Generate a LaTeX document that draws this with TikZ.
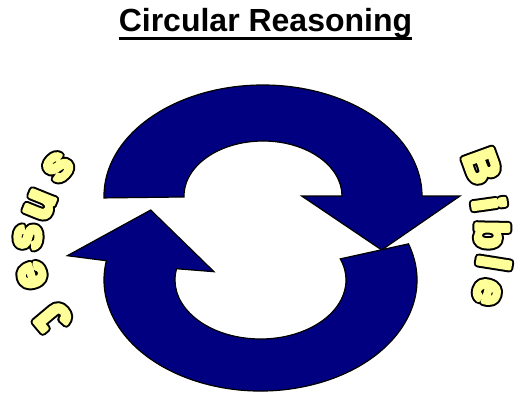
\documentclass[tikz,border=0pt]{standalone}
\usepackage{fontspec}
\setmainfont{Liberation Sans}
\definecolor{navy}{RGB}{0,0,128}
\newcommand{\outl}[1]{\rlap{\special{pdf:literal direct q 2 Tr 8 w 1 j 0 0 0 RG 0 0 0 rg}#1\special{pdf:literal direct Q}}\special{pdf:literal direct q 2 Tr 4 w 1 j 1 1 0.6 RG 1 1 0.6 rg}#1\special{pdf:literal direct Q}}
\begin{document}
\begin{tikzpicture}[x=1pt,y=1pt,
  arrowshape/.style={fill=navy,draw=black,line width=1.2pt,line join=miter},
  jletter/.style={inner sep=0pt,font=\fontsize{46}{46}\selectfont\bfseries},
  bletter/.style={inner sep=0pt,font=\fontsize{44}{44}\selectfont\bfseries},
  titlestyle/.style={inner sep=0pt,anchor=base,font=\fontsize{32}{38}\selectfont\bfseries}]
\useasboundingbox (0,0) rectangle (517,392);
% title
\node[titlestyle] (title) at (265.5,360) {Circular Reasoning};
\draw[line width=2.7pt] ([yshift=-6.7pt]title.base west) -- ([yshift=-6.7pt]title.base east);
% centres
\coordinate (c1) at (263,196);
\coordinate (c2) at (260.5,112);
% top arrow
\draw[arrowshape] (c1) ++(181:159 and 111)
  arc[start angle=181,end angle=0,x radius=159,y radius=111]
  -- (460,196) -- (381.7,142) -- (301.7,196)
  -- ([shift={(0:79 and 55)}]c1)
  arc[start angle=0,end angle=181,x radius=79,y radius=55] -- cycle;
% bottom arrow
\draw[arrowshape] (c2) ++(19:156.5 and 111)
  arc[start angle=19,end angle=-190,x radius=156.5,y radius=111]
  -- (67.3,136.3) -- (150.7,182) -- (214,120.3)
  -- ([shift={(-191:85.5 and 59)}]c2)
  arc[start angle=-191,end angle=21,x radius=85.5,y radius=59] -- cycle;
% Jesus
\node[jletter,rotate=130] (j1) at (53,73) {\outl{J}};
\node[jletter,rotate=107] (j2) at (32,117) {\outl{e}};
\node[jletter,rotate=86] (j3) at (28,155) {\outl{s}};
\node[jletter,rotate=68] (j4) at (40,187) {\outl{u}};
\node[jletter,rotate=46] (j5) at (58,225) {\outl{s}};
% Bible
\node[bletter,rotate=-70] (b1) at (482,226) {\outl{B}};
\node[bletter,rotate=-82] (b2) at (489,188) {\outl{i}};
\node[bletter,rotate=-91] (b3) at (492,157) {\outl{b}};
\node[bletter,rotate=-99] (b4) at (494,129) {\outl{l}};
\node[bletter,rotate=-107] (b5) at (487,100) {\outl{e}};
\end{tikzpicture}
\end{document}
